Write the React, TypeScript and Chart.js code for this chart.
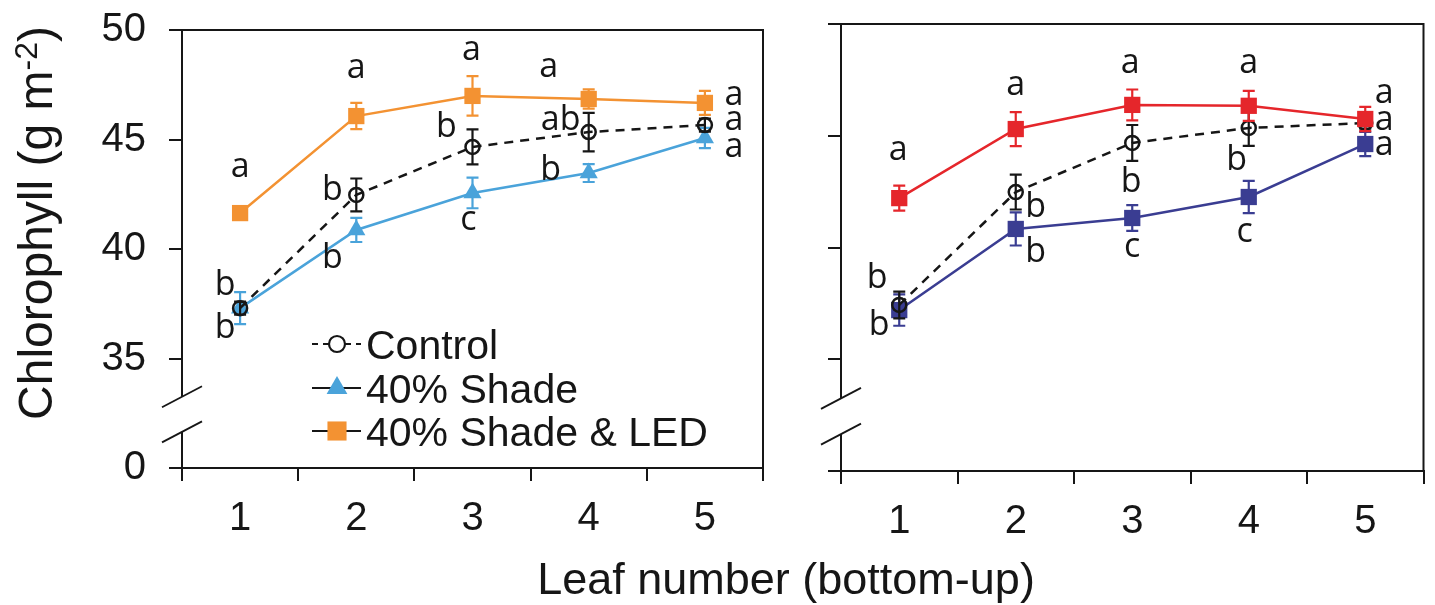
import React, { useEffect, useRef } from "react";
import { Chart, registerables } from "chart.js";

Chart.register(...registerables);

// ---------- DATA ----------
const leafNumbers = ["1", "2", "3", "4", "5"];
const yTickValues = [30, 35, 40, 45, 50];
const yTickLabels = ["0", "35", "40", "45", "50"];
const axisBreak = [31.65, 33.25];

// Left panel (40% shade)
const control40 = [37.3, 42.47, 44.66, 45.34, 45.66];
const control40Err = [0.3, 0.75, 0.8, 0.88, 0.3];
const control40Letters = ["b", "b", "b", "ab", "a"];
const shade40 = [37.3, 40.87, 42.56, 43.47, 45.07];
const shade40Err = [0.73, 0.55, 0.7, 0.41, 0.46];
const shade40Letters = ["b", "b", "c", "b", "a"];
const led40 = [41.64, 46.07, 46.99, 46.85, 46.67];
const led40Err = [0.3, 0.6, 0.9, 0.44, 0.55];
const led40Letters = ["a", "a", "a", "a", "a"];

// Right panel (60% shade)
const control60 = [37.43, 42.48, 44.68, 45.35, 45.57];
const control60Err = [0.6, 0.78, 0.8, 0.8, 0.25];
const control60Letters = ["b", "b", "b", "b", "a"];
const shade60 = [37.2, 40.83, 41.32, 42.26, 44.63];
const shade60Err = [0.7, 0.74, 0.58, 0.72, 0.54];
const shade60Letters = ["b", "b", "c", "c", "a"];
const led60 = [42.21, 45.3, 46.38, 46.34, 45.75];
const led60Err = [0.56, 0.76, 0.69, 0.67, 0.54];
const led60Letters = ["a", "a", "a", "a", "a"];

const yTitleMain = "Chlorophyll (g m";
const yTitleSup = "-2";
const yTitleEnd = ")";
const xTitle = "Leaf number (bottom-up)";

// ---------- STYLE / PLACEMENT ----------
const INK = "#161616";
const SANS = "'Liberation Sans', Arial, sans-serif";
const LETTER_FONT = "34px 'Open Sans', 'Noto Sans', sans-serif";

type Pt = [number, number];

type Series = {
  label: string;
  values: number[];
  errors: number[];
  letters: string[];
  letterPos: Pt[];
  color: string;
  style: "circle" | "triangle" | "rect";
  radius: number;
  dashed: boolean;
  legendStyle: "circle" | "triangle" | "rect";
  legendRadius: number;
};

type Panel = {
  canvasLeft: number;
  width: number;
  height: number;
  area: { left: number; top: number; right: number; bottom: number };
  showYLabels: boolean;
  legendLineX: [number, number];
  legendMarkerX: number;
  legendTextX: number;
  legendRowsY: number[];
  series: Series[];
  titles: boolean;
};

const leftPanel: Panel = {
  canvasLeft: 0,
  width: 1435,
  height: 605,
  area: { left: 182, top: 30, right: 763, bottom: 468 },
  showYLabels: true,
  legendLineX: [312, 361],
  legendMarkerX: 337,
  legendTextX: 366,
  legendRowsY: [344, 388, 431],
  titles: true,
  series: [
    {
      label: "40% Shade & LED", values: led40, errors: led40Err, letters: led40Letters,
      letterPos: [[0, -36], [0, -38], [-1, -36], [-40, -22], [29, 2]],
      color: "#F39232", style: "rect", radius: 11.5, dashed: false, legendStyle: "rect", legendRadius: 13.5,
    },
    {
      label: "Control", values: control40, errors: control40Err, letters: control40Letters,
      letterPos: [[-15, -13], [-24, 5], [-26, -10], [-28, -2], [29, 5]],
      color: INK, style: "circle", radius: 7, dashed: true, legendStyle: "circle", legendRadius: 8,
    },
    {
      label: "40% Shade", values: shade40, errors: shade40Err, letters: shade40Letters,
      letterPos: [[-15, 30], [-24, 38], [-4, 37], [-38, 7], [29, 19]],
      color: "#4AA3DA", style: "triangle", radius: 10.5, dashed: false, legendStyle: "triangle", legendRadius: 12,
    },
  ],
};

const rightPanel: Panel = {
  canvasLeft: 790,
  width: 645,
  height: 605,
  area: { left: 841, top: 24, right: 1431, bottom: 471 },
  showYLabels: false,
  legendLineX: [997, 1046],
  legendMarkerX: 1023,
  legendTextX: 1052,
  legendRowsY: [344, 388, 432],
  titles: false,
  series: [
    {
      label: "60% Shade & LED", values: led60, errors: led60Err, letters: led60Letters,
      letterPos: [[-1, -38], [0, -34], [-2, -32], [0, -33], [19, -16]],
      color: "#E5262B", style: "rect", radius: 11.5, dashed: false, legendStyle: "rect", legendRadius: 13.5,
    },
    {
      label: "Control", values: control60, errors: control60Err, letters: control60Letters,
      letterPos: [[-22, -17], [20, 25], [-1, 49], [-12, 42], [19, 7]],
      color: INK, style: "circle", radius: 7, dashed: true, legendStyle: "circle", legendRadius: 8,
    },
    {
      label: "60% Shade", values: shade60, errors: shade60Err, letters: shade60Letters,
      letterPos: [[-20, 25], [20, 33], [0, 39], [-4, 45], [19, 11]],
      color: "#3A3D92", style: "rect", radius: 11.5, dashed: false, legendStyle: "triangle", legendRadius: 12,
    },
  ],
};

const legendOrder = [1, 2, 0];

function drawMarker(ctx: CanvasRenderingContext2D, style: string, x: number, y: number, r: number, color: string) {
  ctx.save();
  ctx.beginPath();
  if (style === "circle") {
    ctx.arc(x, y, r, 0, Math.PI * 2);
    ctx.fillStyle = "#fff";
    ctx.fill();
    ctx.lineWidth = 2.2;
    ctx.strokeStyle = color;
    ctx.stroke();
  } else if (style === "triangle") {
    const a = Math.PI * 2 / 3;
    ctx.moveTo(x, y - r);
    ctx.lineTo(x + Math.sin(a) * r, y - Math.cos(a) * r);
    ctx.lineTo(x + Math.sin(2 * a) * r, y - Math.cos(2 * a) * r);
    ctx.closePath();
    ctx.fillStyle = color;
    ctx.fill();
  } else {
    const s = r * Math.SQRT1_2;
    ctx.rect(x - s, y - s, 2 * s, 2 * s);
    ctx.fillStyle = color;
    ctx.fill();
  }
  ctx.restore();
}

function makePlugin(panel: Panel) {
  return {
    id: "decor",
    beforeDatasetDraw(chart: any, args: any) {
      const s = panel.series[args.index];
      const ctx: CanvasRenderingContext2D = chart.ctx;
      const xs = chart.scales.x;
      const ys = chart.scales.y;
      ctx.save();
      ctx.strokeStyle = s.color;
      ctx.lineWidth = 2.2;
      s.values.forEach((v, i) => {
        const px = xs.getPixelForValue(i);
        const top = ys.getPixelForValue(v + s.errors[i]);
        const bot = ys.getPixelForValue(v - s.errors[i]);
        ctx.beginPath();
        ctx.moveTo(px, top);
        ctx.lineTo(px, bot);
        ctx.moveTo(px - 6, top);
        ctx.lineTo(px + 6, top);
        ctx.moveTo(px - 6, bot);
        ctx.lineTo(px + 6, bot);
        ctx.stroke();
      });
      ctx.restore();
    },
    afterDatasetsDraw(chart: any) {
      const ctx: CanvasRenderingContext2D = chart.ctx;
      const xs = chart.scales.x;
      const ys = chart.scales.y;
      ctx.save();
      ctx.font = LETTER_FONT;
      ctx.fillStyle = INK;
      ctx.textAlign = "center";
      ctx.textBaseline = "alphabetic";
      panel.series.forEach((s) => {
        s.values.forEach((v, i) => {
          const px = xs.getPixelForValue(i);
          const py = ys.getPixelForValue(v);
          const [dx, dy] = s.letterPos[i];
          ctx.fillText(s.letters[i], px + dx, py + dy);
        });
      });
      ctx.restore();
    },
    afterDraw(chart: any) {
      const ctx: CanvasRenderingContext2D = chart.ctx;
      const a = chart.chartArea;
      const ys = chart.scales.y;
      ctx.save();
      // frame top & right
      ctx.strokeStyle = INK;
      ctx.lineWidth = 2;
      ctx.beginPath();
      ctx.moveTo(a.left, a.top);
      ctx.lineTo(a.right, a.top);
      ctx.lineTo(a.right, a.bottom);
      ctx.stroke();
      // axis break
      const yA = ys.getPixelForValue(axisBreak[1]);
      const yB = ys.getPixelForValue(axisBreak[0]);
      ctx.fillStyle = "#fff";
      ctx.fillRect(a.left - 3, yA, 6, yB - yA);
      ctx.lineWidth = 1.8;
      [yA, yB].forEach((yy) => {
        ctx.beginPath();
        ctx.moveTo(a.left - 20, yy + 10.5);
        ctx.lineTo(a.left + 20, yy - 10.5);
        ctx.stroke();
      });
      // legend
      legendOrder.forEach((si, row) => {
        const s = panel.series[si];
        const y = panel.legendRowsY[row];
        ctx.save();
        ctx.strokeStyle = INK;
        ctx.lineWidth = 2;
        ctx.setLineDash(s.dashed ? [6, 5] : []);
        ctx.beginPath();
        ctx.moveTo(panel.legendLineX[0], y);
        ctx.lineTo(panel.legendLineX[1], y);
        ctx.stroke();
        ctx.restore();
        drawMarker(ctx, s.legendStyle, panel.legendMarkerX, y, s.legendRadius, s.color);
        ctx.fillStyle = INK;
        ctx.font = `41px ${SANS}`;
        ctx.textAlign = "left";
        ctx.textBaseline = "alphabetic";
        ctx.fillText(s.label, panel.legendTextX, y + 14.5);
      });
      // axis titles
      if (panel.titles) {
        ctx.fillStyle = INK;
        ctx.textBaseline = "alphabetic";
        ctx.textAlign = "center";
        ctx.font = `45px ${SANS}`;
        ctx.fillText(xTitle, 786, 594);
        ctx.save();
        ctx.translate(52, 223);
        ctx.rotate(-Math.PI / 2);
        ctx.textAlign = "left";
        ctx.font = `48px ${SANS}`;
        const w1 = ctx.measureText(yTitleMain).width;
        const w3 = ctx.measureText(yTitleEnd).width;
        ctx.font = `32px ${SANS}`;
        const w2 = ctx.measureText(yTitleSup).width;
        let x = -(w1 + w2 + w3) / 2;
        ctx.font = `48px ${SANS}`;
        ctx.fillText(yTitleMain, x, 0);
        x += w1;
        ctx.font = `32px ${SANS}`;
        ctx.fillText(yTitleSup, x, -15);
        x += w2;
        ctx.font = `48px ${SANS}`;
        ctx.fillText(yTitleEnd, x, 0);
        ctx.restore();
      }
      ctx.restore();
    },
  };
}

function zeroPad(s: any) {
  s.paddingTop = 0;
  s.paddingBottom = 0;
  s.paddingLeft = 0;
  s.paddingRight = 0;
}

function buildChart(canvas: HTMLCanvasElement, panel: Panel) {
  const localLeft = panel.area.left - panel.canvasLeft;
  const localRight = panel.area.right - panel.canvasLeft;
  const datasets = panel.series.map((s) => ({
    label: s.label,
    data: s.values,
    borderColor: s.color,
    backgroundColor: s.color,
    borderWidth: 2.5,
    borderDash: s.dashed ? [9, 7] : [],
    pointStyle: s.style,
    pointRadius: s.radius,
    pointHoverRadius: s.radius,
    pointBackgroundColor: s.style === "circle" ? "rgba(255,255,255,0)" : s.color,
    pointBorderColor: s.color,
    pointBorderWidth: s.style === "circle" ? 2.5 : 0,
    tension: 0,
    fill: false,
    clip: false as any,
  }));
  return new Chart(canvas, {
    type: "line",
    data: { labels: leafNumbers, datasets },
    options: {
      responsive: false,
      animation: false,
      devicePixelRatio: 1,
      layout: { padding: { left: 0, top: panel.area.top, right: panel.width - localRight, bottom: 0 } },
      plugins: { legend: { display: false }, tooltip: { enabled: false }, title: { display: false } },
      scales: {
        x: {
          type: "category",
          offset: true,
          grid: { offset: true, drawOnChartArea: false, drawTicks: true, tickLength: 13, color: INK, lineWidth: 2 },
          border: { display: true, color: INK, width: 2 },
          ticks: { color: INK, font: { family: SANS, size: 40 }, padding: 14, maxRotation: 0, autoSkip: false },
          afterFit: (s: any) => { s.height = panel.height - panel.area.bottom; zeroPad(s); },
        },
        y: {
          type: "linear",
          min: yTickValues[0],
          max: yTickValues[yTickValues.length - 1],
          afterBuildTicks: (s: any) => { s.ticks = yTickValues.map((v) => ({ value: v })); },
          grid: { drawOnChartArea: false, drawTicks: true, tickLength: 13, color: INK, lineWidth: 2 },
          border: { display: true, color: INK, width: 2 },
          ticks: {
            display: panel.showYLabels,
            color: INK,
            font: { family: SANS, size: 40 },
            padding: 23,
            callback: (v: any) => {
              const i = yTickValues.indexOf(Number(v));
              return i >= 0 ? yTickLabels[i] : "";
            },
          },
          afterFit: (s: any) => { s.width = localLeft; zeroPad(s); },
        },
      },
    },
    plugins: [makePlugin(panel)],
  } as any);
}

export default function App() {
  const leftRef = useRef<HTMLCanvasElement>(null);
  const rightRef = useRef<HTMLCanvasElement>(null);
  useEffect(() => {
    const c1 = buildChart(leftRef.current!, leftPanel);
    const c2 = buildChart(rightRef.current!, rightPanel);
    return () => {
      c1.destroy();
      c2.destroy();
    };
  }, []);
  return (
    <div style={{ position: "absolute", left: 0, top: 0, width: 1435, height: 605, background: "#fff", overflow: "hidden" }}>
      <canvas ref={leftRef} width={1435} height={605} style={{ position: "absolute", left: 0, top: 0, width: 1435, height: 605 }} />
      <canvas ref={rightRef} width={645} height={605} style={{ position: "absolute", left: 790, top: 0, width: 645, height: 605 }} />
    </div>
  );
}
